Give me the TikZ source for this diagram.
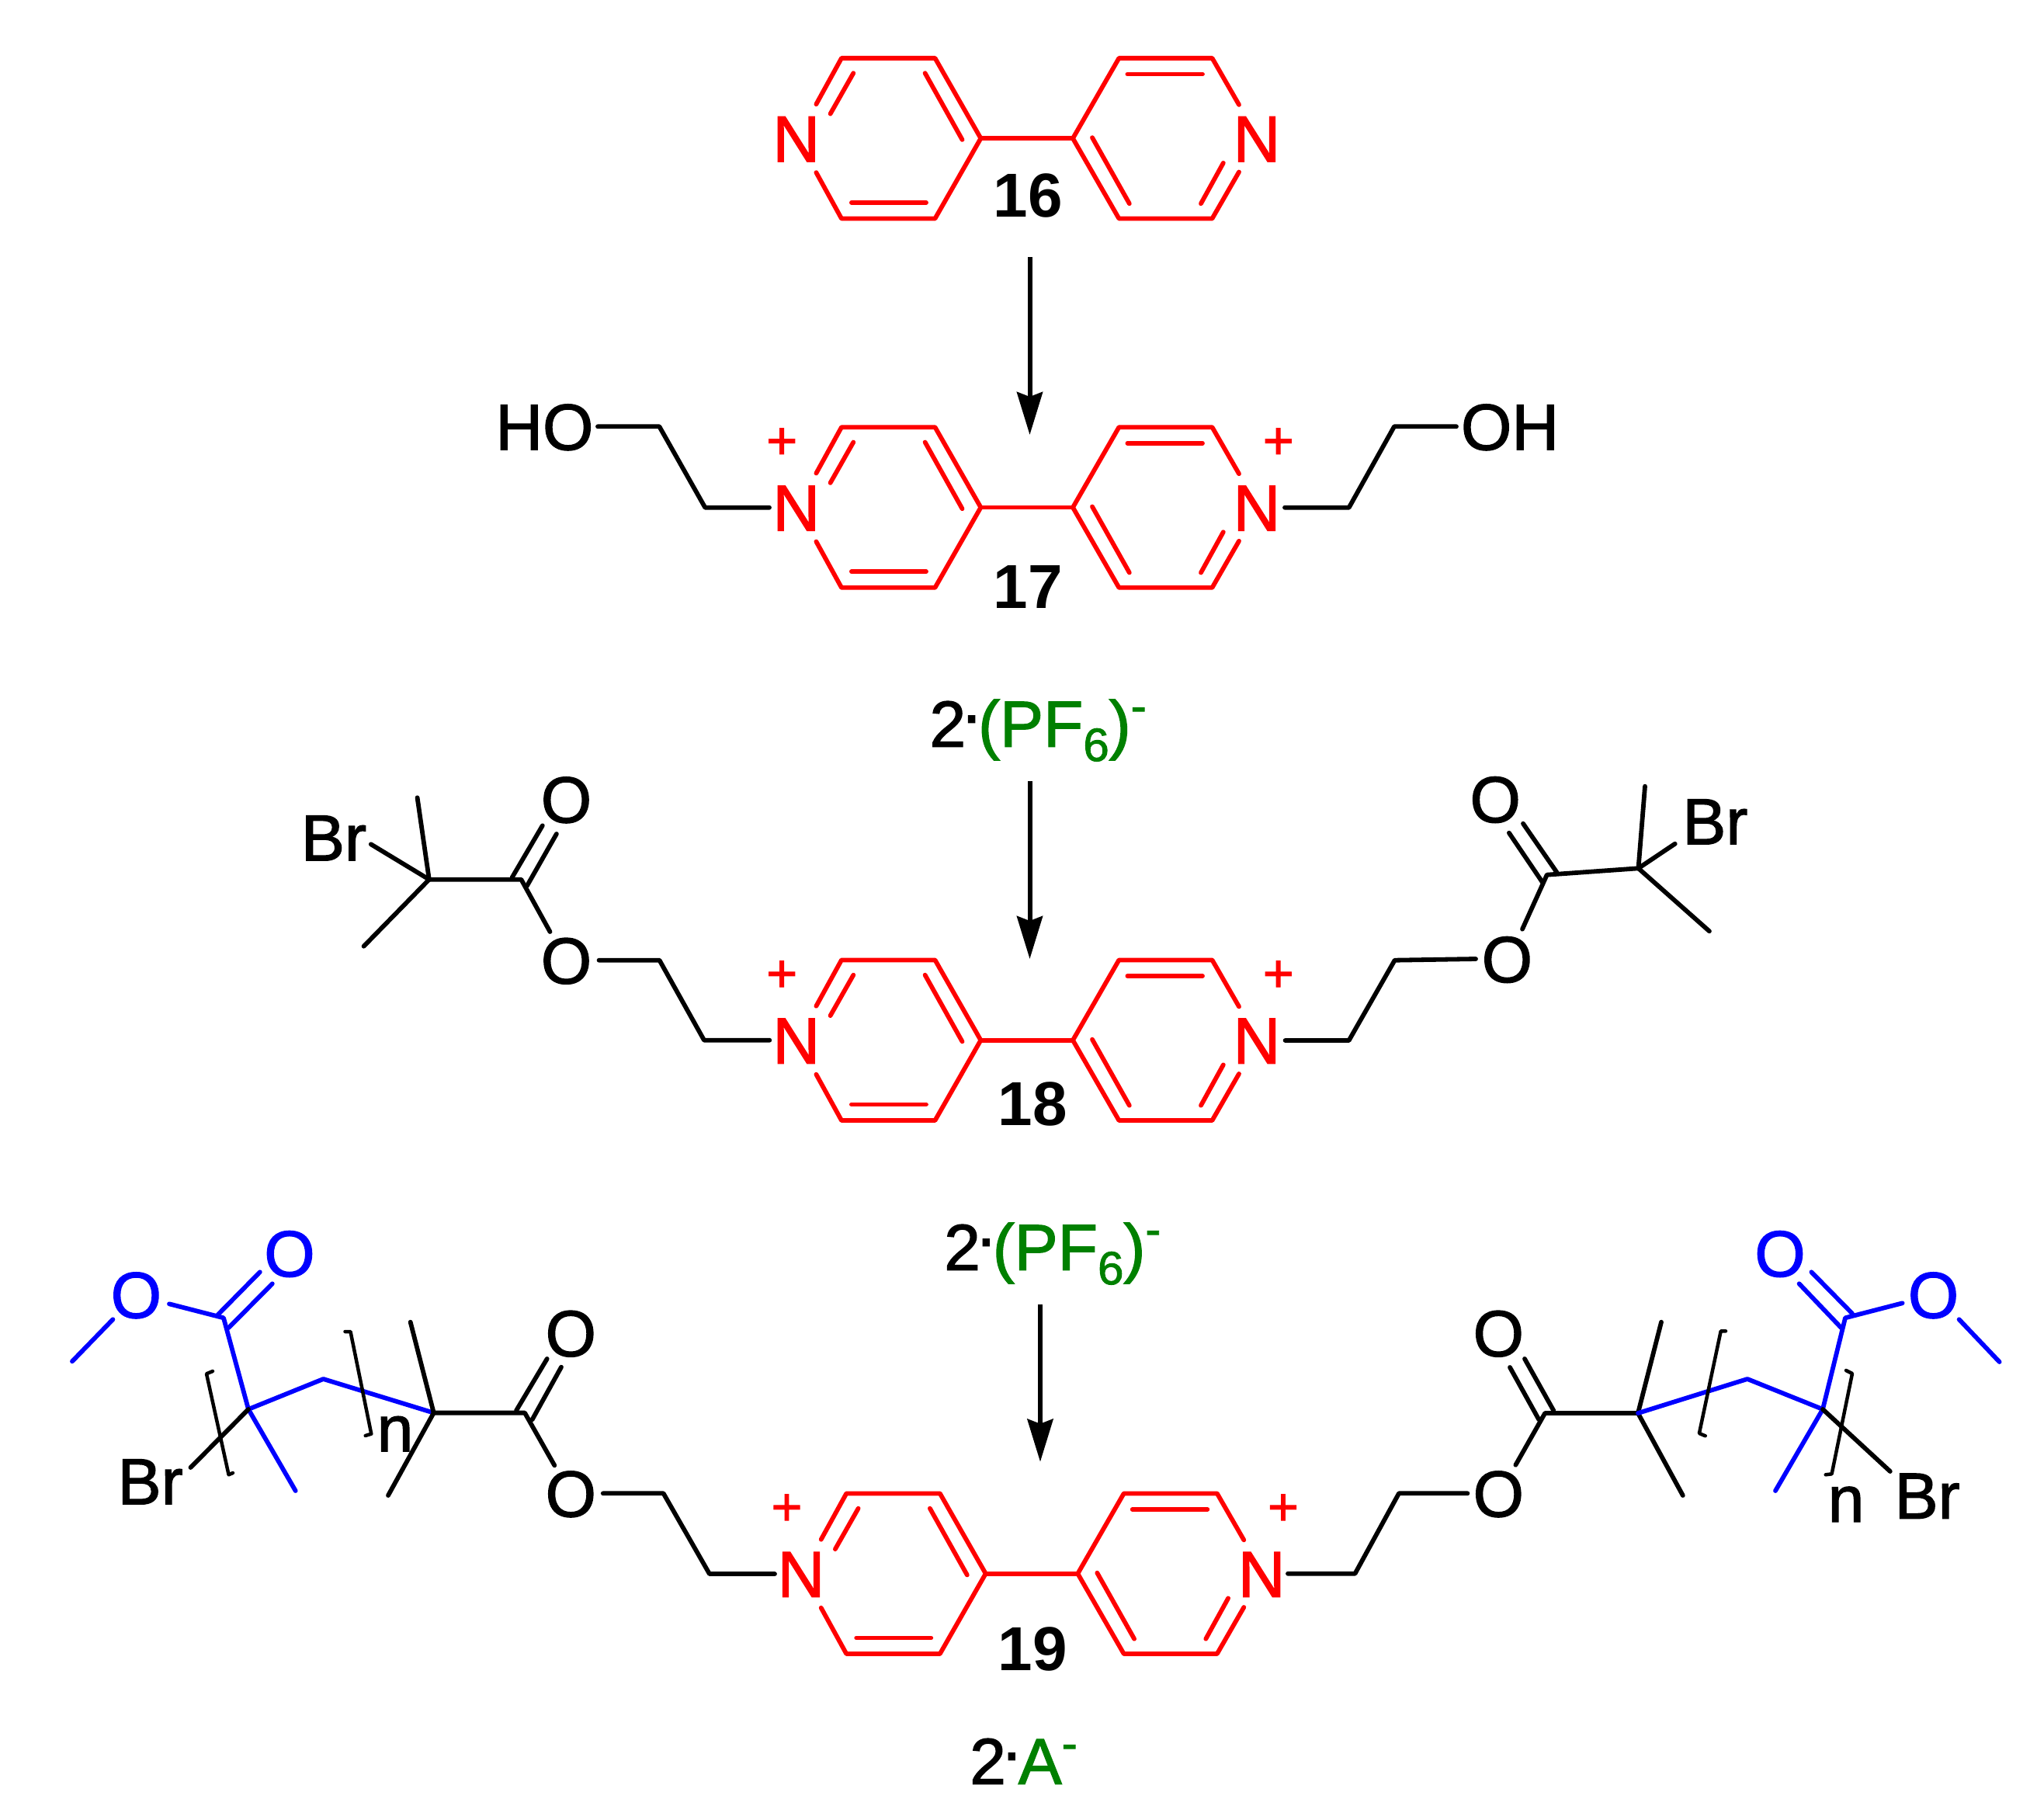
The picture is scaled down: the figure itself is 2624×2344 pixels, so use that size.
\documentclass[tikz,border=0pt]{standalone}
\usepackage{fontspec}
\setmainfont{Liberation Sans}[FakeBold=1.6]
\newfontfamily\numfam{Liberation Sans}
\usetikzlibrary{arrows.meta}
\definecolor{molred}{RGB}{255,0,0}
\definecolor{molblue}{RGB}{0,0,255}
\definecolor{molgreen}{RGB}{0,128,0}
\tikzset{
  bond/.style={draw=black,line width=5.8pt,line cap=round,line join=round},
  redbond/.style={bond,draw=molred},
  bluebond/.style={bond,draw=molblue},
  brack/.style={draw=black,line width=4.5pt,line cap=round,line join=round},
  rxn/.style={draw=black,line width=6pt,-{Stealth[length=55pt,width=33pt,inset=6pt]}},
  atom/.style={inner sep=0pt,anchor=base,font=\fontsize{84}{90}\selectfont},
  redatom/.style={atom,text=molred},
  blueatom/.style={atom,text=molblue},
  numlbl/.style={atom,font=\numfam\fontsize{80}{90}\selectfont\bfseries},
  chg/.style={inner sep=0pt,anchor=base,text=molred,font=\fontsize{68}{70}\selectfont},
  salt/.style={inner sep=0pt,anchor=base west,font=\fontsize{84}{90}\selectfont},
}
\newcommand{\mydot}{\kern-4.3pt\raisebox{31pt}{.}\kern-3.2pt}
\newcommand{\smalltxt}[2]{\raisebox{#1}{\fontsize{60}{60}\selectfont #2}}
\newcommand{\pfsalt}{2\mydot\textcolor{molgreen}{(PF\smalltxt{-18.3pt}{6})\smalltxt{32pt}{-}}}
\newcommand{\bipyring}[3]{%
  \begin{scope}[shift={(#2,#3)}]
    \coordinate (#1la) at (-271.3,-44);
    \coordinate (#1lb) at (-238.7,-103.3);
    \coordinate (#1lc) at (-118.2,-103.3);
    \coordinate (#1ld) at (-59.3,0);
    \coordinate (#1le) at (-118.2,103.3);
    \coordinate (#1lf) at (-238.7,103.3);
    \coordinate (#1lg) at (-271.3,44);
    \coordinate (#1li) at (-253.1,-31.6);
    \coordinate (#1lj) at (-223.4,-84);
    \coordinate (#1lk) at (-131.1,-84);
    \coordinate (#1ll) at (-83.2,1.7);
    \coordinate (#1lm) at (-225.8,82.7);
    \coordinate (#1ln) at (-129.7,82.7);
    \coordinate (#1ra) at (59.3,0);
    \coordinate (#1rb) at (118.7,-103.3);
    \coordinate (#1rc) at (238.8,-103.3);
    \coordinate (#1rd) at (273.3,-43.3);
    \coordinate (#1re) at (273.3,43.3);
    \coordinate (#1rf) at (238.8,103.3);
    \coordinate (#1rg) at (118.7,103.3);
    \coordinate (#1ri) at (129.7,-82.7);
    \coordinate (#1rj) at (226.3,-82.7);
    \coordinate (#1rk) at (84.3,-1);
    \coordinate (#1rl) at (132.1,84);
    \coordinate (#1rm) at (224.3,84);
    \coordinate (#1rn) at (253.1,31.7);
    \node[redatom] (#1NL) at (-297,30) {N};
    \node[redatom] (#1NR) at (296.3,30) {N};
    \draw[redbond] (#1la)--(#1lb)--(#1lc)--(#1ld)--(#1le)--(#1lf)--(#1lg);
    \draw[redbond] (#1li)--(#1lj);
    \draw[redbond] (#1lk)--(#1ll);
    \draw[redbond] (#1lm)--(#1ln);
    \draw[redbond] (#1ld)--(#1ra);
    \draw[redbond] (#1rd)--(#1rc)--(#1rb)--(#1ra)--(#1rg)--(#1rf)--(#1re);
    \draw[redbond] (#1ri)--(#1rj);
    \draw[redbond] (#1rk)--(#1rl);
    \draw[redbond] (#1rm)--(#1rn);
  \end{scope}}
\newcommand{\bipycharges}[3]{%
  \begin{scope}[shift={(#2,#3)}]
    \node[chg] (#1PL) at (-315.5,-62.7) {+};
    \node[chg] (#1PR) at (324,-62.7) {+};
  \end{scope}}
\begin{document}
\begin{tikzpicture}[x=1pt,y=-1pt]
\useasboundingbox (0,0) rectangle (2624,2344);

% ---- 16
\bipyring{a}{1322.7}{178.2}
\node[numlbl] (n16) at (1324,279.5) {16};

\coordinate (r1s) at (1326.5,331);
\coordinate (r1e) at (1326.5,560);
\draw[rxn] (r1s)--(r1e);

% ---- 17
\bipyring{b}{1322.7}{653.5}
\bipycharges{b}{1322.7}{653.5}
\node[numlbl] (n17) at (1324,783.3) {17};
\node[atom] (hoL) at (701.4,579.3) {HO};
\node[atom] (hoR) at (1945,579.3) {OH};
\coordinate (b1) at (770,549.3);
\coordinate (b2) at (849.3,549.3);
\coordinate (b3) at (908.3,653.7);
\coordinate (b4) at (991,653.7);
\draw[bond] (b1)--(b2)--(b3)--(b4);
\coordinate (b5) at (1655,653.7);
\coordinate (b6) at (1737.7,653.7);
\coordinate (b7) at (1796,549.3);
\coordinate (b8) at (1876,549.3);
\draw[bond] (b5)--(b6)--(b7)--(b8);
\node[salt] (s1) at (1197.3,961.7) {\pfsalt};

\coordinate (r2s) at (1326.5,1006);
\coordinate (r2e) at (1326.5,1235);
\draw[rxn] (r2s)--(r2e);

% ---- 18
\bipyring{c}{1322.7}{1339.7}
\bipycharges{c}{1322.7}{1339.7}
\node[numlbl] (n18) at (1330,1449) {18};
\node[atom] (cBrL) at (430,1108.3) {Br};
\node[atom] (cOtL) at (729.5,1059.3) {O};
\node[atom] (cOeL) at (729.5,1266.7) {O};
\coordinate (cq) at (552.8,1132.7);
\coordinate (c1) at (537.6,1027.3);
\coordinate (c2) at (477.8,1087.3);
\coordinate (c3) at (468.6,1218.7);
\coordinate (c4) at (671.4,1132.7);
\coordinate (c5) at (659.7,1130);
\coordinate (c6) at (698.8,1063.3);
\coordinate (c7) at (679,1140.7);
\coordinate (c8) at (716.9,1074);
\coordinate (c9) at (708.5,1200);
\coordinate (c10) at (771.6,1236.7);
\coordinate (c11) at (849.5,1236.7);
\coordinate (c12) at (907,1339.7);
\coordinate (c13) at (991.3,1339.7);
\draw[bond] (c1)--(cq);
\draw[bond] (c2)--(cq);
\draw[bond] (c3)--(cq);
\draw[bond] (cq)--(c4)--(c9);
\draw[bond] (c5)--(c6);
\draw[bond] (c7)--(c8);
\draw[bond] (c10)--(c11)--(c12)--(c13);
\node[atom] (cBrR) at (2209.3,1087.3) {Br};
\node[atom] (cOtR) at (1926.2,1059) {O};
\node[atom] (cOeR) at (1941.4,1265) {O};
\coordinate (dq) at (2110.5,1118.3);
\coordinate (d1) at (2119,1012.7);
\coordinate (d2) at (2157.7,1086.7);
\coordinate (d3) at (2201.9,1199.3);
\coordinate (d4) at (1992.7,1126.7);
\coordinate (d5) at (2005.3,1123.3);
\coordinate (d6) at (1962,1060.7);
\coordinate (d7) at (1987.2,1136.7);
\coordinate (d8) at (1943.9,1072.7);
\coordinate (d9) at (1961,1196.7);
\coordinate (d10) at (1655.6,1340);
\coordinate (d11) at (1737.6,1340);
\coordinate (d12) at (1796.6,1236.7);
\coordinate (d13) at (1901,1235);
\draw[bond] (d1)--(dq);
\draw[bond] (d2)--(dq);
\draw[bond] (d3)--(dq);
\draw[bond] (dq)--(d4)--(d9);
\draw[bond] (d5)--(d6);
\draw[bond] (d7)--(d8);
\draw[bond] (d10)--(d11)--(d12)--(d13);
\node[salt] (s2) at (1216,1635.7) {\pfsalt};

\coordinate (r3s) at (1340,1680);
\coordinate (r3e) at (1340,1882.7);
\draw[rxn] (r3s)--(r3e);

% ---- 19
\bipyring{e}{1329}{2026.7}
\bipycharges{e}{1329}{2026.7}
\node[numlbl] (n19) at (1330,2151.7) {19};
\node[salt] (s3) at (1249,2297.7) {2\mydot\textcolor{molgreen}{A\smalltxt{32pt}{-}}};

% 19, left arm
\node[blueatom] (eOmL) at (175.4,1697.3) {O};
\node[blueatom] (eOdL) at (373,1644) {O};
\node[atom] (eBrL) at (193.6,1937.3) {Br};
\node[atom] (enL) at (509,1869.3) {n};
\node[atom] (eOtL) at (735.3,1746.7) {O};
\node[atom] (eOeL) at (735.3,1953.3) {O};
\coordinate (f1) at (93,1753.3);
\coordinate (f2) at (145.4,1699.3);
\coordinate (f3) at (218,1679.3);
\coordinate (f4) at (288,1697.3);
\coordinate (f5) at (280.6,1693.3);
\coordinate (f6) at (334.8,1638.3);
\coordinate (f7) at (294.6,1710);
\coordinate (f8) at (350.8,1653.3);
\coordinate (f9) at (320,1815);
\coordinate (f10) at (416.5,1776);
\coordinate (f11) at (558.7,1819.6);
\coordinate (f12) at (380.7,1920);
\coordinate (f13) at (245.5,1890);
\coordinate (f14) at (528.7,1702.7);
\coordinate (f15) at (500,1926);
\coordinate (f16) at (676,1819.6);
\coordinate (f17) at (665,1816.7);
\coordinate (f18) at (704.7,1750);
\coordinate (f19) at (685.6,1828.3);
\coordinate (f20) at (723,1760.7);
\coordinate (f21) at (714.3,1887.3);
\coordinate (f22) at (776.8,1923.3);
\coordinate (f23) at (854.6,1923.3);
\coordinate (f24) at (913.9,2027);
\coordinate (f25) at (998,2027);
\coordinate (f26) at (274,1766);
\coordinate (f27) at (266,1769.3);
\coordinate (f28) at (294.6,1899.3);
\coordinate (f29) at (300,1897);
\coordinate (f30) at (444.5,1715);
\coordinate (f31) at (451.5,1715);
\coordinate (f32) at (478.3,1846.7);
\coordinate (f33) at (470.7,1849);
\draw[bluebond] (f1)--(f2);
\draw[bluebond] (f3)--(f4)--(f9)--(f10)--(f11);
\draw[bluebond] (f5)--(f6);
\draw[bluebond] (f7)--(f8);
\draw[bluebond] (f9)--(f12);
\draw[bond] (f9)--(f13);
\draw[bond] (f14)--(f11)--(f15);
\draw[bond] (f11)--(f16)--(f21);
\draw[bond] (f17)--(f18);
\draw[bond] (f19)--(f20);
\draw[bond] (f22)--(f23)--(f24)--(f25);
\draw[brack] (f26)--(f27)--(f28)--(f29);
\draw[brack] (f30)--(f31)--(f32)--(f33);

% 19, right arm
\node[blueatom] (eOmR) at (2490.5,1697.3) {O};
\node[blueatom] (eOdR) at (2293,1644) {O};
\node[atom] (eBrR) at (2482.6,1955.7) {Br};
\node[atom] (enR) at (2378,1960) {n};
\node[atom] (eOtR) at (1930.3,1746.7) {O};
\node[atom] (eOeR) at (1930.3,1953.3) {O};
\coordinate (g1) at (1659,2026.7);
\coordinate (g2) at (1745.5,2026.7);
\coordinate (g3) at (1802,1923.3);
\coordinate (g4) at (1890.4,1923.3);
\coordinate (g5) at (1964,1750);
\coordinate (g6) at (2001.3,1816.7);
\coordinate (g7) at (1945,1761);
\coordinate (g8) at (1982.3,1828.3);
\coordinate (g9) at (1990.2,1820);
\coordinate (g10) at (2110,1820);
\coordinate (g11) at (1952.4,1886.7);
\coordinate (g12) at (2140,1702.7);
\coordinate (g13) at (2167.8,1926);
\coordinate (g14) at (2250.9,1776);
\coordinate (g15) at (2348,1815);
\coordinate (g16) at (2377,1697.3);
\coordinate (g17) at (2287,1920);
\coordinate (g18) at (2450.6,1678.3);
\coordinate (g19) at (2386,1691.7);
\coordinate (g20) at (2333.4,1638.3);
\coordinate (g21) at (2371.7,1710);
\coordinate (g22) at (2317.6,1653.3);
\coordinate (g23) at (2523.6,1699.3);
\coordinate (g24) at (2575.6,1754);
\coordinate (g25) at (2434.8,1895);
\coordinate (g26) at (2223,1714.3);
\coordinate (g27) at (2216.7,1714.3);
\coordinate (g28) at (2188.9,1846);
\coordinate (g29) at (2196.7,1849.3);
\coordinate (g30) at (2378,1765);
\coordinate (g31) at (2386,1769);
\coordinate (g32) at (2359.6,1898.3);
\coordinate (g33) at (2351.7,1899.3);
\draw[bond] (g1)--(g2)--(g3)--(g4);
\draw[bond] (g5)--(g6);
\draw[bond] (g7)--(g8);
\draw[bond] (g11)--(g9)--(g10);
\draw[bond] (g12)--(g10)--(g13);
\draw[bluebond] (g10)--(g14)--(g15)--(g16)--(g18);
\draw[bluebond] (g15)--(g17);
\draw[bluebond] (g19)--(g20);
\draw[bluebond] (g21)--(g22);
\draw[bluebond] (g23)--(g24);
\draw[bond] (g15)--(g25);
\draw[brack] (g26)--(g27)--(g28)--(g29);
\draw[brack] (g30)--(g31)--(g32)--(g33);
\end{tikzpicture}
\end{document}
